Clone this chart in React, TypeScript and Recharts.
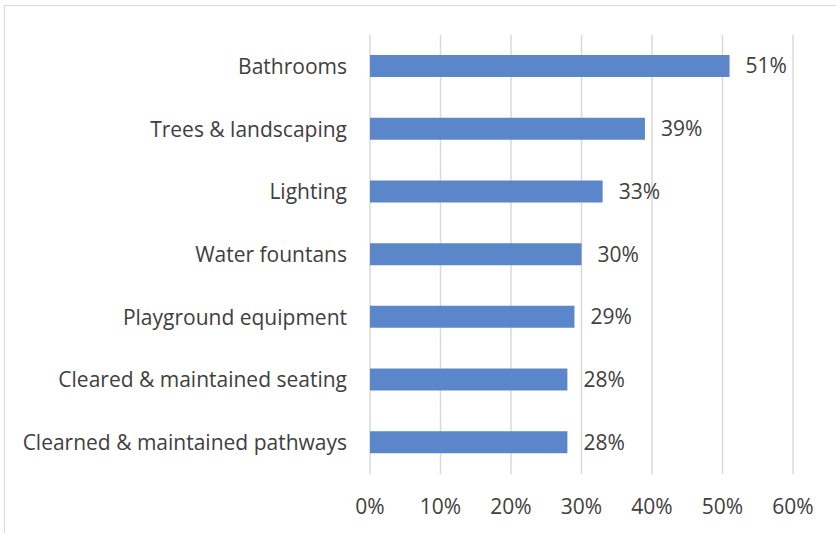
import { BarChart, Bar, XAxis, YAxis, CartesianGrid, LabelList } from "recharts";

const categories = [
  "Bathrooms",
  "Trees & landscaping",
  "Lighting",
  "Water fountans",
  "Playground equipment",
  "Cleared & maintained seating",
  "Clearned & maintained pathways",
];
const shares = [51, 39, 33, 30, 29, 28, 28];
const xTicks = [0, 10, 20, 30, 40, 50, 60];

const data = categories.map((name, i) => ({ name, share: shares[i] }));

const FONT = "'Open Sans', sans-serif";
const TEXT = "#404040";

export default function App() {
  return (
    <div style={{ position: "absolute", left: 0, top: 0, width: 836, height: 533, background: "#fff", overflow: "hidden" }}>
      <div
        style={{
          position: "absolute",
          left: 4,
          top: 5,
          width: 900,
          height: 600,
          border: "1.5px solid #d9d9d9",
          boxSizing: "border-box",
        }}
      />
      <BarChart
        layout="vertical"
        width={836}
        height={533}
        data={data}
        margin={{ top: 35, right: 43, left: 0, bottom: 0 }}
        style={{ position: "absolute", left: 0, top: 0, fontFamily: FONT }}
      >
        <CartesianGrid horizontal={false} stroke="#d9d9d9" strokeWidth={1.5} />
        <XAxis
          type="number"
          domain={[0, 60]}
          ticks={xTicks}
          tickFormatter={(v: number) => `${v}%`}
          axisLine={false}
          tickLine={false}
          height={59}
          tickMargin={19}
          tick={{ fontSize: 21, fill: TEXT, fontFamily: FONT }}
        />
        <YAxis
          type="category"
          dataKey="name"
          width={370}
          axisLine={false}
          tickLine={false}
          tickSize={0}
          tickMargin={23}
          tick={{ fontSize: 21, fill: TEXT, fontFamily: FONT }}
        />
        <Bar dataKey="share" fill="#5B87CA" barSize={22} isAnimationActive={false}>
          <LabelList
            dataKey="share"
            position="right"
            offset={16}
            formatter={(v: number) => `${v}%`}
            style={{ fontSize: 21, fill: TEXT, fontFamily: FONT }}
          />
        </Bar>
      </BarChart>
    </div>
  );
}
